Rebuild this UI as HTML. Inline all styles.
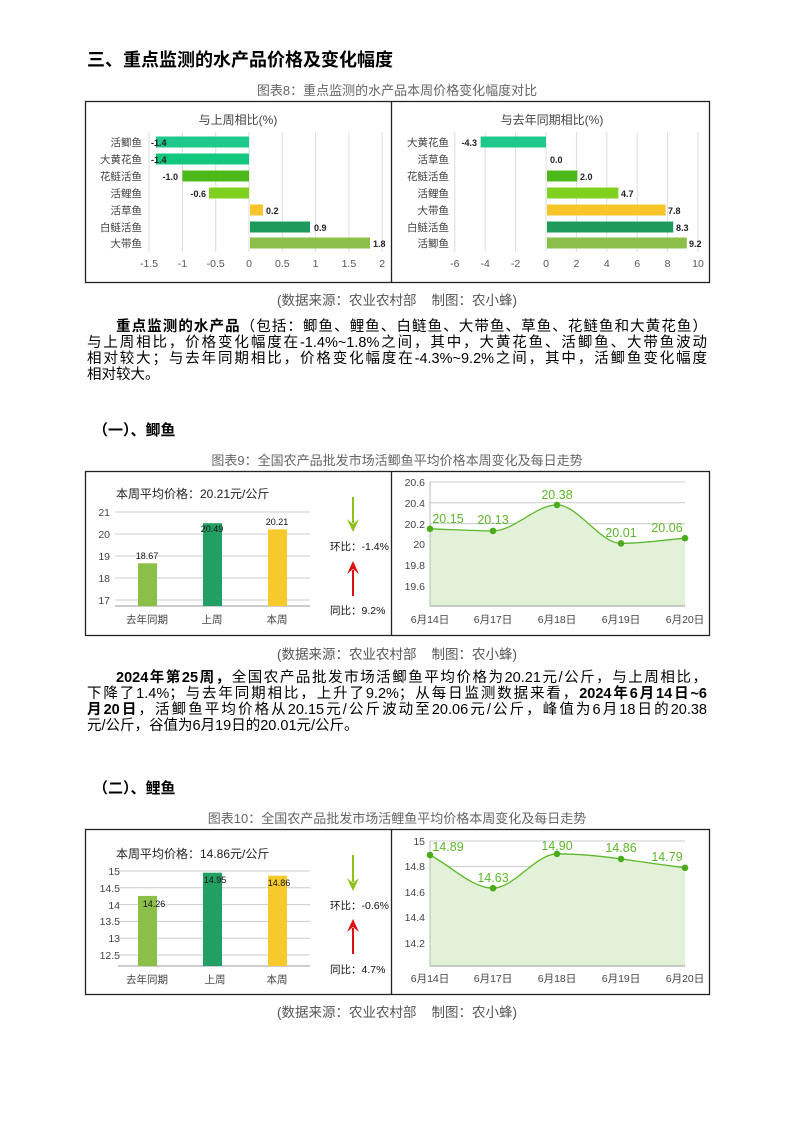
<!DOCTYPE html>
<html><head><meta charset="utf-8"><style>
*{margin:0;padding:0;box-sizing:border-box}
body{width:794px;height:1122px;background:#fff;position:relative;overflow:hidden;font-family:"Liberation Sans","Noto Sans CJK SC",sans-serif;color:#000}
.a{position:absolute;white-space:nowrap}
.h1{left:87px;top:46px;font-size:18px;font-weight:bold}
.h2{left:93px;font-size:15px;font-weight:bold}
.cap{left:0;width:794px;text-align:center;font-size:13px;color:#666}
.src{left:0;width:794px;text-align:center;font-size:13.5px;color:#555}
.ln{position:absolute;left:87px;width:620px;font-size:14.5px;line-height:16px;text-align:justify;text-align-last:justify;white-space:nowrap}
.last{text-align-last:left}
svg{position:absolute;left:0;top:0}
</style></head><body>
<div class="a h1">三、重点监测的水产品价格及变化幅度</div>
<div class="a cap" style="top:80px">图表8：重点监测的水产品本周价格变化幅度对比</div>
<div class="a src" style="top:289px">(数据来源：农业农村部&nbsp;&nbsp;&nbsp;&nbsp;制图：农小蜂)</div>
<div class="ln" style="top:319px;left:116px;width:591px"><b>重点监测的水产品</b>（包括：鲫鱼、鲤鱼、白鲢鱼、大带鱼、草鱼、花鲢鱼和大黄花鱼）</div>
<div class="ln" style="top:335px">与上周相比，价格变化幅度在-1.4%~1.8%之间，其中，大黄花鱼、活鲫鱼、大带鱼波动</div>
<div class="ln" style="top:351px">相对较大；与去年同期相比，价格变化幅度在-4.3%~9.2%之间，其中，活鲫鱼变化幅度</div>
<div class="ln last" style="top:367px">相对较大。</div>

<div class="a h2" style="top:419px">（一）、鲫鱼</div>
<div class="a cap" style="top:450px">图表9：全国农产品批发市场活鲫鱼平均价格本周变化及每日走势</div>
<div class="a src" style="top:643px">(数据来源：农业农村部&nbsp;&nbsp;&nbsp;&nbsp;制图：农小蜂)</div>
<div class="ln" style="top:670px;left:116px;width:591px"><b>2024年第25周，</b>全国农产品批发市场活鲫鱼平均价格为20.21元/公斤，与上周相比，</div>
<div class="ln" style="top:686px">下降了1.4%；与去年同期相比，上升了9.2%；从每日监测数据来看，<b>2024年6月14日~6</b></div>
<div class="ln" style="top:702px"><b>月20日</b>，活鲫鱼平均价格从20.15元/公斤波动至20.06元/公斤，峰值为6月18日的20.38</div>
<div class="ln last" style="top:718px">元/公斤，谷值为6月19日的20.01元/公斤。</div>

<div class="a h2" style="top:777px">（二）、鲤鱼</div>
<div class="a cap" style="top:808px">图表10：全国农产品批发市场活鲤鱼平均价格本周变化及每日走势</div>
<div class="a src" style="top:1001px">(数据来源：农业农村部&nbsp;&nbsp;&nbsp;&nbsp;制图：农小蜂)</div>

<svg width="794" height="1122" font-family="Liberation Sans,Noto Sans CJK SC,sans-serif">
<!-- Chart 8 -->
<rect x="85.5" y="101.5" width="624" height="181" fill="none" stroke="#222" stroke-width="1.3"/>
<line x1="391.5" y1="101" x2="391.5" y2="282" stroke="#222" stroke-width="1.3"/>
<g stroke="#ddd" stroke-width="1">
<line x1="149" y1="132" x2="149" y2="252"/><line x1="182.4" y1="132" x2="182.4" y2="252"/><line x1="215.7" y1="132" x2="215.7" y2="252"/><line x1="249" y1="132" x2="249" y2="252"/><line x1="282.3" y1="132" x2="282.3" y2="252"/><line x1="315.6" y1="132" x2="315.6" y2="252"/><line x1="348.9" y1="132" x2="348.9" y2="252"/><line x1="382.2" y1="132" x2="382.2" y2="252"/>
<line x1="454.8" y1="132" x2="454.8" y2="252"/><line x1="485.2" y1="132" x2="485.2" y2="252"/><line x1="515.6" y1="132" x2="515.6" y2="252"/><line x1="546" y1="132" x2="546" y2="252"/><line x1="576.4" y1="132" x2="576.4" y2="252"/><line x1="606.8" y1="132" x2="606.8" y2="252"/><line x1="637.2" y1="132" x2="637.2" y2="252"/><line x1="667.6" y1="132" x2="667.6" y2="252"/><line x1="698" y1="132" x2="698" y2="252"/>
</g>
<text x="238" y="124" font-size="12" text-anchor="middle" fill="#444">与上周相比(%)</text>
<text x="552" y="124" font-size="12" text-anchor="middle" fill="#444">与去年同期相比(%)</text>
<g font-size="10.5" fill="#444" text-anchor="end">
<text x="142" y="146">活鲫鱼</text><text x="142" y="163">大黄花鱼</text><text x="142" y="180">花鲢活鱼</text><text x="142" y="197">活鲤鱼</text><text x="142" y="214">活草鱼</text><text x="142" y="231">白鲢活鱼</text><text x="142" y="247">大带鱼</text>
<text x="449" y="146">大黄花鱼</text><text x="449" y="163">活草鱼</text><text x="449" y="180">花鲢活鱼</text><text x="449" y="197">活鲤鱼</text><text x="449" y="214">大带鱼</text><text x="449" y="231">白鲢活鱼</text><text x="449" y="247">活鲫鱼</text>
</g>
<rect x="156" y="136.5" width="93" height="11" fill="#1ec98a"/>
<rect x="156" y="153.5" width="93" height="11" fill="#14c77f"/>
<rect x="182.4" y="170.5" width="66.6" height="11" fill="#4cb81a"/>
<rect x="209" y="187.5" width="40" height="11" fill="#80d020"/>
<rect x="250" y="204.5" width="13" height="11" fill="#f7c52a"/>
<rect x="250" y="221.5" width="60" height="11" fill="#1e9a5c"/>
<rect x="250" y="237.5" width="120" height="11" fill="#8cbf4a"/>
<g font-size="9" fill="#222" font-weight="bold">
<text x="151" y="146">-1.4</text><text x="151" y="163">-1.4</text><text x="178" y="180" text-anchor="end">-1.0</text><text x="206" y="197" text-anchor="end">-0.6</text><text x="266" y="214">0.2</text><text x="314" y="231">0.9</text><text x="373" y="247">1.8</text>
<text x="477" y="146" text-anchor="end">-4.3</text><text x="550" y="163">0.0</text><text x="580" y="180">2.0</text><text x="621" y="197">4.7</text><text x="668" y="214">7.8</text><text x="676" y="231">8.3</text><text x="689" y="247">9.2</text>
</g>
<rect x="480.6" y="136.5" width="65.4" height="11" fill="#1ec98a"/>
<rect x="547" y="170.5" width="30.4" height="11" fill="#4cb81a"/>
<rect x="547" y="187.5" width="71.4" height="11" fill="#80d020"/>
<rect x="547" y="204.5" width="118.6" height="11" fill="#f7c52a"/>
<rect x="547" y="221.5" width="126.2" height="11" fill="#1e9a5c"/>
<rect x="547" y="237.5" width="139.8" height="11" fill="#8cbf4a"/>
<g font-size="10.5" fill="#555" text-anchor="middle">
<text x="149" y="267">-1.5</text><text x="182.4" y="267">-1</text><text x="215.7" y="267">-0.5</text><text x="249" y="267">0</text><text x="282.3" y="267">0.5</text><text x="315.6" y="267">1</text><text x="348.9" y="267">1.5</text><text x="382.2" y="267">2</text>
<text x="454.8" y="267">-6</text><text x="485.2" y="267">-4</text><text x="515.6" y="267">-2</text><text x="546" y="267">0</text><text x="576.4" y="267">2</text><text x="606.8" y="267">4</text><text x="637.2" y="267">6</text><text x="667.6" y="267">8</text><text x="698" y="267">10</text>
</g>

<!-- Chart 9 -->
<rect x="85.5" y="471.5" width="624" height="164" fill="none" stroke="#222" stroke-width="1.3"/>
<line x1="391.5" y1="471" x2="391.5" y2="635" stroke="#222" stroke-width="1.3"/>
<text x="116" y="498" font-size="12" fill="#222">本周平均价格：20.21元/公斤</text>
<g stroke="#ccc"><line x1="115" y1="512" x2="310" y2="512"/><line x1="115" y1="534" x2="310" y2="534"/><line x1="115" y1="556" x2="310" y2="556"/><line x1="115" y1="578" x2="310" y2="578"/><line x1="115" y1="600" x2="310" y2="600"/><line x1="115" y1="606" x2="310" y2="606" stroke="#999"/></g>
<g font-size="10.5" fill="#444" text-anchor="end"><text x="110" y="516">21</text><text x="110" y="538">20</text><text x="110" y="560">19</text><text x="110" y="582">18</text><text x="110" y="604">17</text></g>
<rect x="138" y="563.3" width="19" height="42.7" fill="#8cbf4a"/>
<rect x="203" y="523.2" width="19" height="82.8" fill="#22a064"/>
<rect x="268" y="529.4" width="19" height="76.6" fill="#f7c92a"/>
<g font-size="9" fill="#111" text-anchor="middle"><text x="147" y="559">18.67</text><text x="212" y="532">20.49</text><text x="277" y="525">20.21</text></g>
<g font-size="10.5" fill="#444" text-anchor="middle"><text x="147" y="623">去年同期</text><text x="212" y="623">上周</text><text x="277" y="623">本周</text></g>
<path d="M353 497 V523" stroke="#8cc21a" stroke-width="2"/><path d="M347 519 L353 532 L359 519 L353 524 Z" fill="#8cc21a"/>
<path d="M353 596 V570" stroke="#e01010" stroke-width="2"/><path d="M347 574 L353 561 L359 574 L353 569 Z" fill="#e01010"/>
<text x="330" y="550" font-size="10.5" fill="#111">环比：-1.4%</text>
<text x="330" y="614" font-size="10.5" fill="#111">同比：9.2%</text>
<g stroke="#ccc"><line x1="430" y1="482" x2="685" y2="482"/><line x1="430" y1="502.8" x2="685" y2="502.8"/><line x1="430" y1="523.6" x2="685" y2="523.6"/><line x1="430" y1="544.4" x2="685" y2="544.4"/><line x1="430" y1="565.2" x2="685" y2="565.2"/><line x1="430" y1="586" x2="685" y2="586"/></g>
<path d="M430 528.8 C451 529.5 472 530.9 493 530.9 C514 530.9 536 504.9 557 504.9 C578 504.9 600 543.4 621 543.4 C642 543.4 664 540 685 538.2 L685 606 L430 606 Z" fill="#e2f1d8"/>
<path d="M430 528.8 C451 529.5 472 530.9 493 530.9 C514 530.9 536 504.9 557 504.9 C578 504.9 600 543.4 621 543.4 C642 543.4 664 540 685 538.2" fill="none" stroke="#5cb82a" stroke-width="1.3"/>
<line x1="430" y1="606" x2="685" y2="606" stroke="#999"/><line x1="430" y1="482" x2="430" y2="606" stroke="#bbb"/>
<g fill="#4aac1a"><circle cx="430" cy="528.8" r="3.3"/><circle cx="493" cy="530.9" r="3.3"/><circle cx="557" cy="504.9" r="3.3"/><circle cx="621" cy="543.4" r="3.3"/><circle cx="685" cy="538.2" r="3.3"/></g>
<g font-size="12.5" fill="#5cb82a" text-anchor="middle"><text x="448" y="523">20.15</text><text x="493" y="524">20.13</text><text x="557" y="499">20.38</text><text x="621" y="537">20.01</text><text x="667" y="532">20.06</text></g>
<g font-size="10.5" fill="#444" text-anchor="end"><text x="425" y="486">20.6</text><text x="425" y="507">20.4</text><text x="425" y="528">20.2</text><text x="425" y="548">20</text><text x="425" y="569">19.8</text><text x="425" y="590">19.6</text></g>
<g font-size="10.5" fill="#444" text-anchor="middle"><text x="430" y="623">6月14日</text><text x="493" y="623">6月17日</text><text x="557" y="623">6月18日</text><text x="621" y="623">6月19日</text><text x="685" y="623">6月20日</text></g>

<!-- Chart 10 -->
<rect x="85.5" y="829.5" width="624" height="165" fill="none" stroke="#222" stroke-width="1.3"/>
<line x1="391.5" y1="829" x2="391.5" y2="994" stroke="#222" stroke-width="1.3"/>
<text x="116" y="858" font-size="12" fill="#222">本周平均价格：14.86元/公斤</text>
<g stroke="#ccc"><line x1="118" y1="871" x2="310" y2="871"/><line x1="118" y1="887.8" x2="310" y2="887.8"/><line x1="118" y1="904.6" x2="310" y2="904.6"/><line x1="118" y1="921.4" x2="310" y2="921.4"/><line x1="118" y1="938.2" x2="310" y2="938.2"/><line x1="118" y1="955" x2="310" y2="955"/><line x1="118" y1="966" x2="310" y2="966" stroke="#999"/></g>
<g font-size="10.5" fill="#444" text-anchor="end"><text x="120" y="875">15</text><text x="120" y="892">14.5</text><text x="120" y="909">14</text><text x="120" y="925">13.5</text><text x="120" y="942">13</text><text x="120" y="959">12.5</text></g>
<rect x="138" y="895.9" width="19" height="70.1" fill="#8cbf4a"/>
<rect x="203" y="872.7" width="19" height="93.3" fill="#22a064"/>
<rect x="268" y="875.7" width="19" height="90.3" fill="#f7c92a"/>
<g font-size="9" fill="#111" text-anchor="middle"><text x="154" y="907">14.26</text><text x="215" y="883">14.95</text><text x="279" y="886">14.86</text></g>
<g font-size="10.5" fill="#444" text-anchor="middle"><text x="147" y="983">去年同期</text><text x="215" y="983">上周</text><text x="277" y="983">本周</text></g>
<path d="M353 855 V882" stroke="#8cc21a" stroke-width="2"/><path d="M347 878 L353 891 L359 878 L353 883 Z" fill="#8cc21a"/>
<path d="M353 954 V928" stroke="#e01010" stroke-width="2"/><path d="M347 932 L353 919 L359 932 L353 927 Z" fill="#e01010"/>
<text x="330" y="909" font-size="10.5" fill="#111">环比：-0.6%</text>
<text x="330" y="973" font-size="10.5" fill="#111">同比：4.7%</text>
<g stroke="#ccc"><line x1="430" y1="841" x2="685" y2="841"/><line x1="430" y1="866.5" x2="685" y2="866.5"/><line x1="430" y1="892" x2="685" y2="892"/><line x1="430" y1="917.5" x2="685" y2="917.5"/><line x1="430" y1="943" x2="685" y2="943"/></g>
<path d="M430 855 C451 866 472 888.2 493 888.2 C514 888.2 536 853.8 557 853.8 C578 853.8 600 856 621 858.9 C642 862 664 865 685 867.8 L685 966 L430 966 Z" fill="#e2f1d8"/>
<path d="M430 855 C451 866 472 888.2 493 888.2 C514 888.2 536 853.8 557 853.8 C578 853.8 600 856 621 858.9 C642 862 664 865 685 867.8" fill="none" stroke="#5cb82a" stroke-width="1.3"/>
<line x1="430" y1="966" x2="685" y2="966" stroke="#999"/><line x1="430" y1="841" x2="430" y2="966" stroke="#bbb"/>
<g fill="#4aac1a"><circle cx="430" cy="855" r="3.3"/><circle cx="493" cy="888.2" r="3.3"/><circle cx="557" cy="853.8" r="3.3"/><circle cx="621" cy="858.9" r="3.3"/><circle cx="685" cy="867.8" r="3.3"/></g>
<g font-size="12.5" fill="#5cb82a" text-anchor="middle"><text x="448" y="851">14.89</text><text x="493" y="882">14.63</text><text x="557" y="850">14.90</text><text x="621" y="852">14.86</text><text x="667" y="861">14.79</text></g>
<g font-size="10.5" fill="#444" text-anchor="end"><text x="425" y="845">15</text><text x="425" y="870">14.8</text><text x="425" y="896">14.6</text><text x="425" y="921">14.4</text><text x="425" y="947">14.2</text></g>
<g font-size="10.5" fill="#444" text-anchor="middle"><text x="430" y="982">6月14日</text><text x="493" y="982">6月17日</text><text x="557" y="982">6月18日</text><text x="621" y="982">6月19日</text><text x="685" y="982">6月20日</text></g>
</svg>
</body></html>
